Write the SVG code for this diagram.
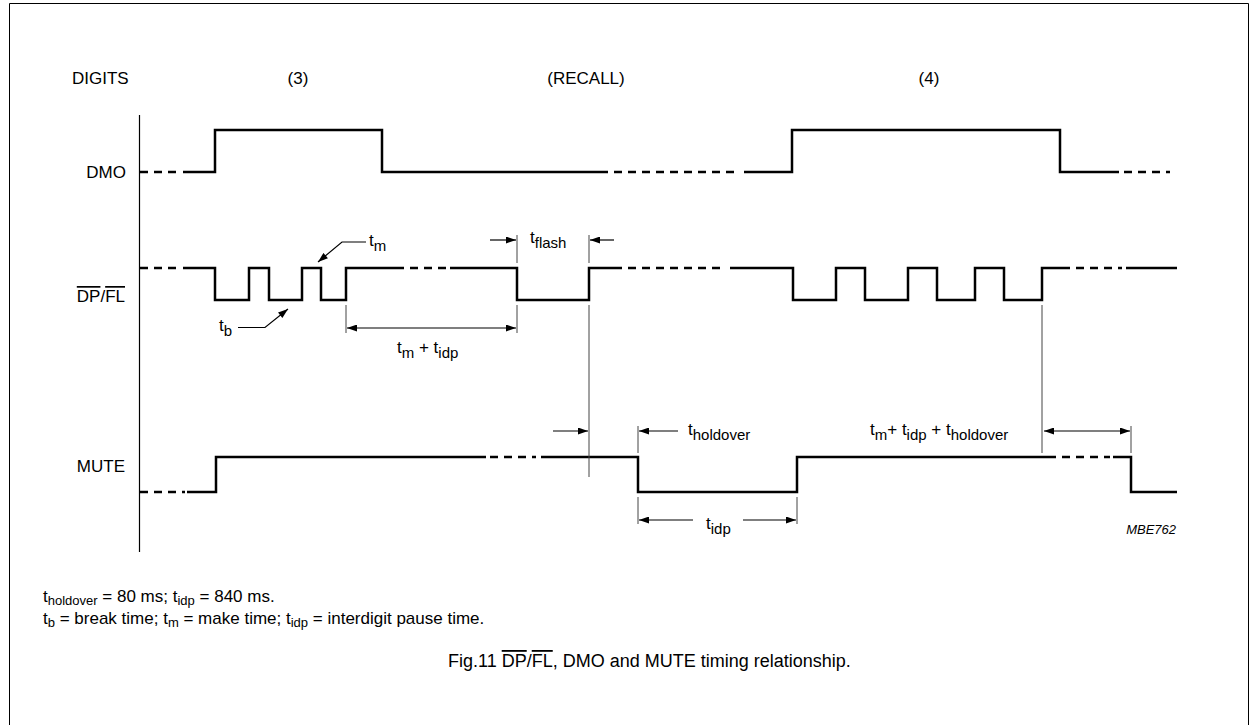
<svg xmlns="http://www.w3.org/2000/svg" width="1250" height="725" viewBox="0 0 1250 725">
<style>
text{font-family:"Liberation Sans",Arial,sans-serif;fill:#000}
.lbl{font-size:17px}
.ann{font-size:17px}
.sub{font-size:15px}
.nsub{font-size:13px}
.sig{fill:none;stroke:#000;stroke-width:2.5}
.dash{fill:none;stroke:#000;stroke-width:2.5;stroke-dasharray:8 6}
.tick{fill:none;stroke:#444;stroke-width:1}
.arr{fill:none;stroke:#000;stroke-width:1.2}
</style>
<defs>
<marker id="ah" viewBox="0 0 10 7" refX="10" refY="3.5" markerWidth="11" markerHeight="7" markerUnits="userSpaceOnUse" orient="auto-start-reverse">
<path d="M0,0 L10,3.5 L0,7 z" fill="#000"/>
</marker>
</defs>
<rect width="1250" height="725" fill="#fff"/>
<path d="M9.5,725 V3.5 H1248.5 V725" fill="none" stroke="#000" stroke-width="1"/>

<g id="header" class="lbl">
<text x="72" y="84">DIGITS</text>
<text x="298" y="84" text-anchor="middle">(3)</text>
<text x="586" y="84" text-anchor="middle">(RECALL)</text>
<text x="929" y="84" text-anchor="middle">(4)</text>
</g>

<g id="axis"><line x1="139.5" y1="115" x2="139.5" y2="552" stroke="#000" stroke-width="1.2"/></g>

<g id="dmo">
<text class="lbl" x="126" y="178" text-anchor="end">DMO</text>
<path class="dash" d="M140,172 H182"/>
<path class="sig" d="M183,172 H215 V130 H382 V172 H608"/>
<path class="dash" d="M614,172 H740"/>
<path class="sig" d="M744,172 H792 V130 H1060 V172 H1119"/>
<path class="dash" d="M1124,172 H1170"/>
</g>

<g id="dpfl">
<text class="lbl" x="125" y="302" text-anchor="end"><tspan text-decoration="overline">DP</tspan>/<tspan text-decoration="overline">FL</tspan></text>
<path class="dash" d="M140,268 H182"/>
<path class="sig" d="M183,268 H215 V300 H249 V268 H269 V300 H302 V268 H321 V300 H346 V268 H404"/>
<path class="dash" d="M410,268 H446"/>
<path class="sig" d="M450,268 H517 V300 H589 V268 H622"/>
<path class="dash" d="M628,268 H726"/>
<path class="sig" d="M730,268 H793 V300 H836 V268 H865 V300 H908 V268 H937 V300 H975 V268 H1004 V300 H1042 V268 H1070"/>
<path class="dash" d="M1076,268 H1122"/>
<path class="sig" d="M1126,268 H1177"/>
</g>

<g id="mute">
<text class="lbl" x="125" y="472" text-anchor="end">MUTE</text>
<path class="dash" d="M140,492 H185"/>
<path class="sig" d="M187,492 H216 V457 H486"/>
<path class="dash" d="M490,457 H536"/>
<path class="sig" d="M541,457 H638 V492 H797 V457 H1056"/>
<path class="dash" d="M1062,457 H1110"/>
<path class="sig" d="M1113,457 H1131 V492 H1177"/>
</g>

<g id="connectors">
<path class="arr" d="M366,242 H342 L318,262" marker-end="url(#ah)"/>
<path class="arr" d="M238,327.5 H265 L288,309" marker-end="url(#ah)"/>
<line class="tick" x1="517" y1="235" x2="517" y2="263"/>
<line class="tick" x1="589" y1="235" x2="589" y2="263"/>
<path class="arr" d="M490,240 H516" marker-end="url(#ah)"/>
<path class="arr" d="M614,240 H590" marker-end="url(#ah)"/>
<line class="tick" x1="346" y1="305" x2="346" y2="333"/>
<line class="tick" x1="517" y1="305" x2="517" y2="333"/>
<path class="arr" d="M347,328 H516" marker-start="url(#ah)" marker-end="url(#ah)"/>
<line class="tick" x1="589" y1="305" x2="589" y2="477"/>
<line class="tick" x1="1042" y1="305" x2="1042" y2="453"/>
<path class="arr" d="M553,431 H588" marker-end="url(#ah)"/>
<line class="tick" x1="638" y1="426" x2="638" y2="453"/>
<path class="arr" d="M678,431 H639" marker-end="url(#ah)"/>
<line class="tick" x1="1131" y1="426" x2="1131" y2="453"/>
<path class="arr" d="M1044,431 H1130" marker-start="url(#ah)" marker-end="url(#ah)"/>
<line class="tick" x1="638" y1="497" x2="638" y2="524"/>
<line class="tick" x1="797" y1="497" x2="797" y2="524"/>
<path class="arr" d="M693,520 H639" marker-end="url(#ah)"/>
<path class="arr" d="M743,520 H796" marker-end="url(#ah)"/>
</g>

<g id="annotations" class="ann">
<text x="369" y="246">t<tspan class="sub" dy="5">m</tspan></text>
<text x="219" y="331">t<tspan class="sub" dy="5">b</tspan></text>
<text x="530" y="243">t<tspan class="sub" dy="5">flash</tspan></text>
<text x="397" y="353">t<tspan class="sub" dy="5">m</tspan><tspan dy="-5"> + t</tspan><tspan class="sub" dy="5">idp</tspan></text>
<text x="688" y="435">t<tspan class="sub" dy="5">holdover</tspan></text>
<text x="870" y="435">t<tspan class="sub" dy="5">m</tspan><tspan dy="-5">+ t</tspan><tspan class="sub" dy="5">idp</tspan><tspan dy="-5"> + t</tspan><tspan class="sub" dy="5">holdover</tspan></text>
<text x="706" y="529">t<tspan class="sub" dy="5">idp</tspan></text>
<text x="1176" y="534" text-anchor="end" style="font-size:13px;font-style:italic">MBE762</text>
</g>

<g id="notes">
<text x="43" y="602" style="font-size:17px">t<tspan class="nsub" dy="3">holdover</tspan><tspan dy="-3"> = 80 ms; t</tspan><tspan class="nsub" dy="3">idp</tspan><tspan dy="-3"> = 840 ms.</tspan></text>
<text x="43" y="624" style="font-size:17px">t<tspan class="nsub" dy="3">b</tspan><tspan dy="-3"> = break time; t</tspan><tspan class="nsub" dy="3">m</tspan><tspan dy="-3"> = make time; t</tspan><tspan class="nsub" dy="3">idp</tspan><tspan dy="-3"> = interdigit pause time.</tspan></text>
<text x="448" y="667" style="font-size:18px">Fig.11  <tspan text-decoration="overline">DP</tspan>/<tspan text-decoration="overline">FL</tspan>, DMO and MUTE timing relationship.</text>
</g>
</svg>
